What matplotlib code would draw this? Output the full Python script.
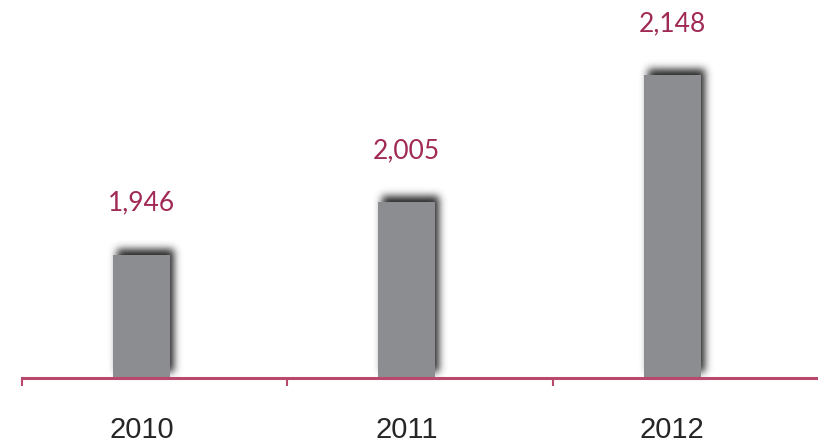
import matplotlib
matplotlib.use("Agg")
import matplotlib.pyplot as plt
import numpy as np

YEARS = ["2010", "2011", "2012"]
VALUES = [1946, 2005, 2148]

BAR_COLOR = "#8b8d90"
SHADOW_COLOR = "#262626"
LABEL_COLOR = "#a02a55"
AXIS_COLOR = "#b8496d"
YEAR_COLOR = "#262626"


class DropShadow:
    """Agg filter: blur the artist's alpha and shift it, for a soft shadow."""

    def __init__(self, sigma=4.0, offset=(4, 6), alpha=1.0):
        self.sigma = sigma
        self.offset = offset
        self.alpha = alpha

    def __call__(self, im, dpi):
        pad = int(self.sigma * 3 + max(self.offset)) + 2
        a = np.pad(im[:, :, 3], pad, mode="constant")
        r = int(self.sigma * 3)
        k = np.exp(-0.5 * (np.arange(-r, r + 1) / self.sigma) ** 2)
        k /= k.sum()
        blurred = np.zeros_like(a)
        for i, w in zip(range(-r, r + 1), k):
            blurred += w * np.roll(a, i, axis=0)
        out = np.zeros_like(a)
        for i, w in zip(range(-r, r + 1), k):
            out += w * np.roll(blurred, i, axis=1)
        ox, oy = self.offset
        out = np.roll(np.roll(out, ox, axis=1), -oy, axis=0)
        rgb = matplotlib.colors.to_rgb(SHADOW_COLOR)
        res = np.zeros(out.shape + (4,))
        res[:, :, :3] = rgb
        res[:, :, 3] = np.clip(out * self.alpha, 0, 1)
        return res, -pad, -pad


fig = plt.figure(figsize=(8.18, 4.46), dpi=100)
ax = fig.add_axes([22 / 818, 68 / 446, 796 / 818, 378 / 446])

x = np.arange(len(YEARS))
width = 0.215

shadow = ax.bar(x, VALUES, width, color=SHADOW_COLOR, zorder=1)
for p in shadow:
    p.set_agg_filter(DropShadow())
    p.set_rasterized(True)
ax.bar(x, VALUES, width, color=BAR_COLOR, zorder=2)

for xi, v in zip(x, VALUES):
    ax.annotate(f"{v:,}", (xi, v), xytext=(0, 37), textcoords="offset points",
                ha="center", va="center", fontsize=19, color=LABEL_COLOR,
                family="Lato")

ax.set_ylim(1807, 2233)
ax.set_xlim(-0.45, 2.55)

# boundary ticks between years, year labels under the bars
ax.set_xticks(x - 0.45)
ax.set_xticklabels([])
ax.set_xticks(x, minor=True)
ax.set_xticklabels(YEARS, minor=True, fontsize=21, color=YEAR_COLOR,
                   family="Liberation Sans")
ax.tick_params(axis="x", which="major", direction="out", length=6,
               width=1.5, color=AXIS_COLOR)
ax.tick_params(axis="x", which="minor", length=0, pad=27)
ax.set_yticks([])

for side in ["top", "right", "left"]:
    ax.spines[side].set_visible(False)
ax.spines["bottom"].set_color(AXIS_COLOR)
ax.spines["bottom"].set_linewidth(2.2)
ax.spines["bottom"].set_zorder(5)

fig.savefig("out.png", dpi=100)
